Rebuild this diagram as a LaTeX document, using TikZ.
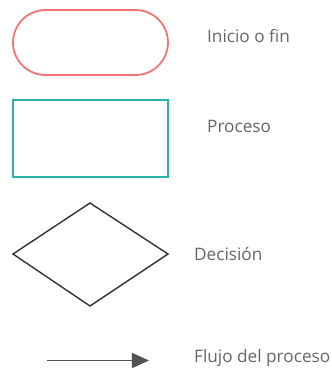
\documentclass[tikz,border=0pt]{standalone}
\usepackage{fontspec}
\setmainfont{Open Sans}
\usetikzlibrary{shapes.geometric,arrows.meta}
\definecolor{startred}{HTML}{F27474}
\definecolor{proteal}{HTML}{2AB3AD}
\definecolor{labgray}{HTML}{666666}
\definecolor{darkline}{HTML}{333333}
\tikzset{
  lab/.style={anchor=west, inner sep=0pt, text=labgray, font=\fontsize{17.2}{20}\selectfont},
}
\begin{document}
\begin{tikzpicture}[x=1pt,y=-1pt]
\useasboundingbox (0,0) rectangle (332,368);
\draw[startred, line width=1.8pt, rounded corners=32.5pt] (13,10) rectangle (168,75);
\node[lab] (t1) at (207,36) {Inicio o fin};
\draw[proteal, line width=1.8pt] (13,100) rectangle (168,177);
\node[lab] (t2) at (207,126) {Proceso};
\draw[darkline, line width=1.4pt, line join=miter] (13,254) -- (90,203) -- (168,254) -- (90,306) -- cycle;
\node[lab] (t3) at (194,254) {Decisión};
\coordinate (a1) at (47,360.5);
\coordinate (a2) at (149,360.5);
\draw[darkline!85!white, line width=1.4pt, -{Triangle[length=17pt,width=15pt]}] (a1) -- (a2);
\node[lab] (t4) at (194,358) {Flujo del proceso};
\end{tikzpicture}
\end{document}
